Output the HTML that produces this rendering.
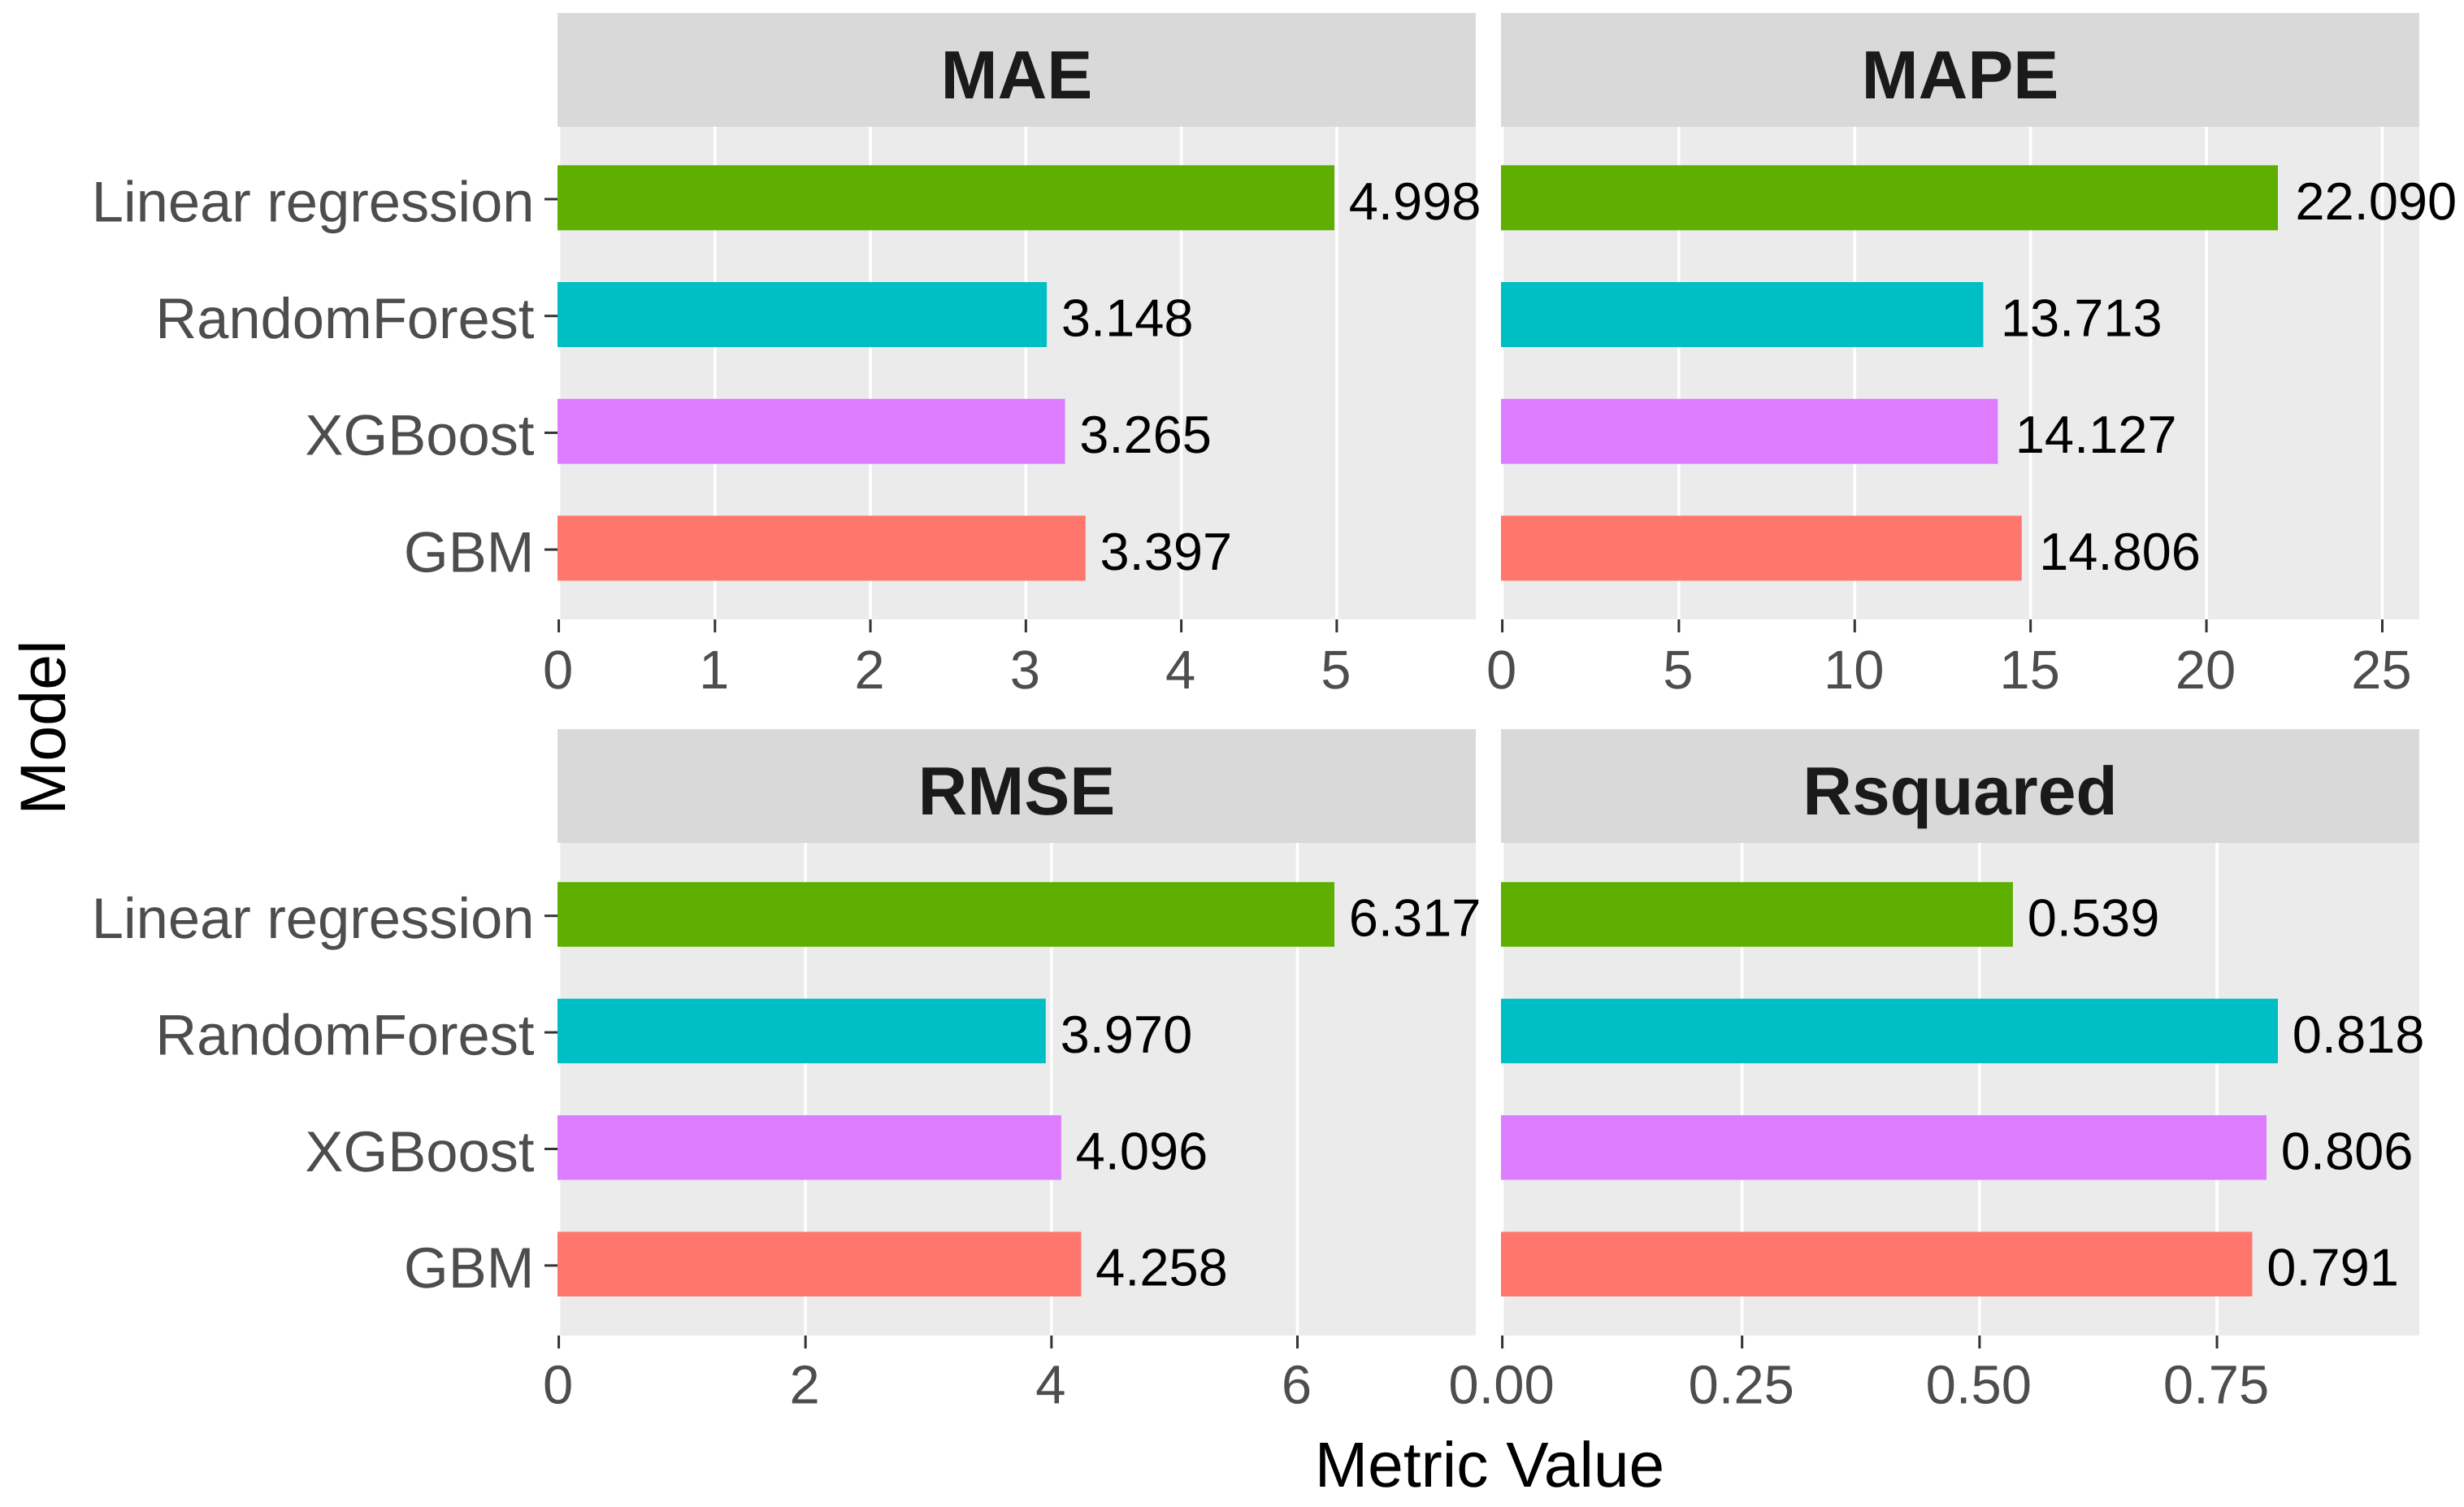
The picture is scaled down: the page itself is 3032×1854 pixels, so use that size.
<!DOCTYPE html>
<html lang="en">
<head>
<meta charset="utf-8">
<title>Model metrics by metric value</title>
<style>
  html, body { margin: 0; padding: 0; background: #ffffff; }
  svg { display: block; font-family: "Liberation Sans", Arial, sans-serif; text-rendering: geometricPrecision; }
</style>
</head>
<body>
<svg id="chart" xmlns="http://www.w3.org/2000/svg" width="3032" height="1854" viewBox="0 0 3032 1854">
  <rect x="0" y="0" width="3032" height="1854" fill="#ffffff"></rect>
  <text transform="translate(80 895) rotate(-90)" text-anchor="middle" font-size="79" fill="#000000">Model</text>
  <text x="1833" y="1829" text-anchor="middle" font-size="78.5" fill="#000000">Metric Value</text>
</svg>
<script>
const models = ["Linear regression", "RandomForest", "XGBoost", "GBM"];
const maeValues = [4.998, 3.148, 3.265, 3.397];
const mapeValues = [22.090, 13.713, 14.127, 14.806];
const rmseValues = [6.317, 3.970, 4.096, 4.258];
const rsquaredValues = [0.539, 0.818, 0.806, 0.791];
const maeTicks = [0, 1, 2, 3, 4, 5];
const mapeTicks = [0, 5, 10, 15, 20, 25];
const rmseTicks = [0, 2, 4, 6];
const rsquaredTicks = ["0.00", "0.25", "0.50", "0.75"];
const modelColors = ["#5FAF00", "#00BFC4", "#DD7CFF", "#FF766D"];

const columnLeft = [686, 1847];
const columnWidth = [1130, 1130];
const rowLayouts = [
  { stripTop: 16, stripBottom: 156, panelBottom: 762, firstBand: 243.3, bandStep: 143.7, barHeight: 80, titleBase: 121, tickBase: 847 },
  { stripTop: 897, stripBottom: 1037, panelBottom: 1643, firstBand: 1125, bandStep: 143.4, barHeight: 79.5, titleBase: 1002, tickBase: 1726.5 }
];
const headroom = 1.182;

const svg = document.getElementById("chart");
const NS = "http://www.w3.org/2000/svg";

function shape(tag, props, text) {
  const node = document.createElementNS(NS, tag);
  for (const key in props) node.setAttribute(key, props[key]);
  if (text !== undefined) node.textContent = text;
  svg.appendChild(node);
  return node;
}

function drawFacet(title, values, ticks, col, row, gridShift) {
  const key = title.toLowerCase();
  const left = columnLeft[col];
  const width = columnWidth[col];
  const layout = rowLayouts[row];
  const k = width / (Math.max.apply(null, values) * headroom);
  const barX = function (v) { return left + k * v; };
  const gridX = function (v) { return Number(v) === 0 ? left + 1.6 : left + gridShift + k * Number(v); };
  const bandY = function (i) { return layout.firstBand + layout.bandStep * i; };

  const strip = shape("rect", { x: left, y: layout.stripTop, width: width, height: layout.stripBottom - layout.stripTop, fill: "#D9D9D9" });
  
  

  const stripTitle = shape("text", { x: left + width / 2, y: layout.titleBase, "text-anchor": "middle", "font-size": 84, "font-weight": "bold", fill: "#1A1A1A" }, title);
  
  

  const panel = shape("rect", { x: left, y: layout.stripBottom, width: width, height: layout.panelBottom - layout.stripBottom, fill: "#EBEBEB" });
  
  

  ticks.forEach(function (t) {
    const x = gridX(t);
    const grid = shape("line", { x1: x, x2: x, y1: layout.stripBottom, y2: layout.panelBottom, stroke: "#FFFFFF", "stroke-width": 3.6 });
    
    

    const tick = shape("line", { x1: x, x2: x, y1: layout.panelBottom, y2: layout.panelBottom + 16, stroke: "#333333", "stroke-width": 3 });
    
    

    const label = shape("text", { x: x - 1, y: layout.tickBase, "text-anchor": "middle", "font-size": 67, fill: "#4D4D4D" }, String(t));
    
    
  });

  values.forEach(function (v, i) {
    const cy = bandY(i);
    const bar = shape("rect", { x: left, y: cy - layout.barHeight / 2, width: barX(v) - left, height: layout.barHeight, fill: modelColors[i] });
    
    

    const value = shape("text", { x: barX(v), y: cy + 26.5, "font-size": 65, fill: "#000000" }, v.toFixed(3));
    value.setAttribute('x', barX(v) + value.getComputedTextLength() * 0.1 + 1.5);
    
    

    if (col === 0) {
      const tick = shape("line", { x1: left - 16, x2: left, y1: cy + 1.7, y2: cy + 1.7, stroke: "#333333", "stroke-width": 3 });
      
      

      const label = shape("text", { x: 657.5, y: cy + 29, "text-anchor": "end", "font-size": 70.5, fill: "#4D4D4D" }, models[i]);
      
      
    }
  });
}

drawFacet("MAE", maeValues, maeTicks, 0, 0, 2.5);
drawFacet("MAPE", mapeValues, mapeTicks, 1, 0, 2.5);
drawFacet("RMSE", rmseValues, rmseTicks, 0, 1, 2.5);
drawFacet("Rsquared", rsquaredValues, rsquaredTicks, 1, 1, 4.5);
</script>
</body>
</html>
